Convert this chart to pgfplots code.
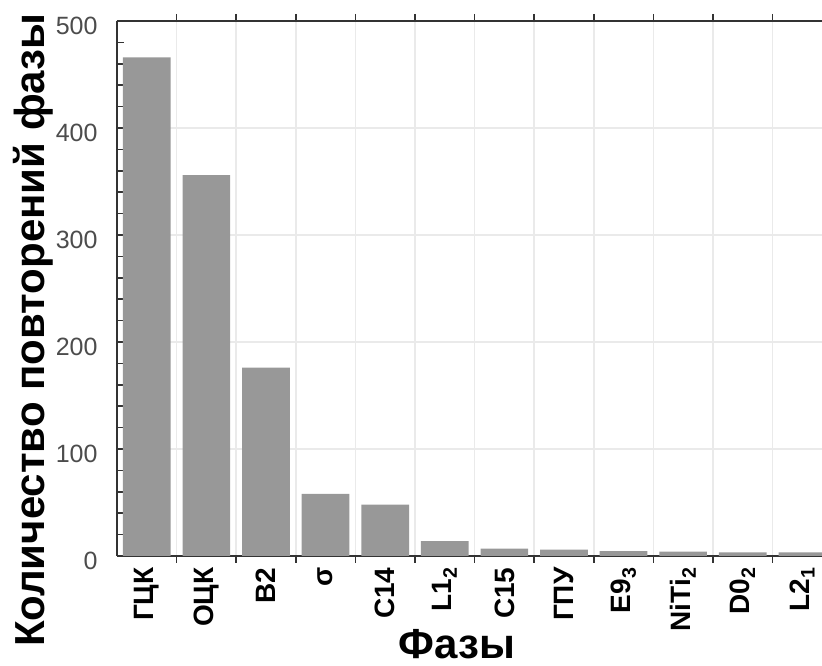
\documentclass[border=0pt]{standalone}
\usepackage{fontspec}
\setmainfont{Liberation Sans}
\usepackage{pgfplots}
\pgfplotsset{compat=1.18}
\definecolor{barc}{RGB}{152,152,152}
\definecolor{gridc}{RGB}{234,234,234}
\begin{document}
\begin{tikzpicture}
\path[use as bounding box] (0,0) rectangle (822pt,666pt);
\begin{axis}[
  at={(117pt,110pt)}, anchor=south west,
  scale only axis, width=705pt, height=535pt,
  xmin=-0.5, xmax=11.33, ymin=0, ymax=500,
  axis y line*=left,
  ytick={0,100,...,500}, minor y tick num=4,
  xtick={0,...,11},
  xticklabels={ГЦК,ОЦК,B2,σ,C14,L1\textsubscript{2},C15,ГПУ,E9\textsubscript{3},NiTi\textsubscript{2},D0\textsubscript{2},L2\textsubscript{1}},
  minor xtick={0.5,1.5,...,10.5},
  major x tick style={draw=none},
  xminorgrids, ymajorgrids,
  minor x grid style={gridc, line width=1.5pt},
  major y grid style={gridc, line width=1.5pt},
  tick align=inside,
  major tick length=8pt, minor tick length=7pt,
  axis line style={line width=2.5pt, black!80},
  tick style={line width=1.5pt, black!80},
  ybar, bar width=0.8,
  /pgf/number format/assume math mode=true,
  yticklabel style={font=\fontsize{25}{25}\selectfont, text=black!70, xshift=-16pt, yshift=-5pt},
  xticklabel style={font=\fontsize{28}{28}\selectfont\bfseries, rotate=90, anchor=east},
  xlabel={Фазы}, ylabel={Количество повторений фазы},
  xlabel style={at={(axis description cs:0.482,-0.165)}, anchor=center, font=\fontsize{42}{42}\selectfont\bfseries},
  ylabel style={at={(axis description cs:-0.119,0.422)}, anchor=center, font=\fontsize{42}{42}\selectfont\bfseries},
]
\addplot[fill=barc, draw=none] coordinates {
(0,466) (1,356) (2,176) (3,58) (4,48) (5,14) (6,7) (7,6) (8,4.5) (9,4.2) (10,3.5) (11,3.3)
};
\end{axis}
\end{tikzpicture}
\end{document}
